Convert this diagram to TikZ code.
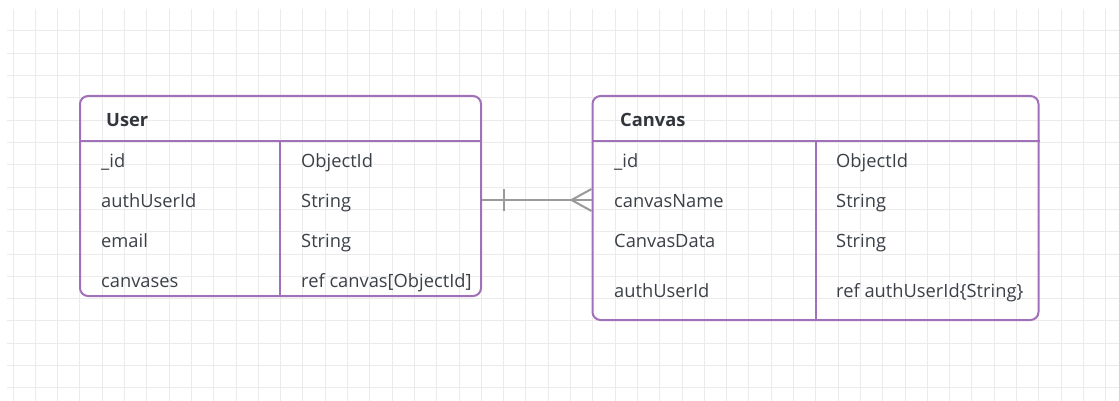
\documentclass[tikz,border=0pt]{standalone}
\usepackage{fontspec}
\setmainfont{Open Sans}
\definecolor{gridc}{HTML}{EBEBEB}
\definecolor{boxc}{HTML}{A071B9}
\definecolor{txtc}{HTML}{3B4047}
\definecolor{connc}{HTML}{9A9A9A}
\tikzset{
  tablebox/.style={draw=boxc, line width=2pt, rounded corners=8pt, fill=none, inner sep=0pt},
  rule/.style={draw=boxc, line width=2pt},
  cell/.style={anchor=base west, inner sep=0pt, text=txtc, font=\fontsize{18.3}{21}\selectfont},
  title/.style={anchor=base west, inner sep=0pt, text=txtc!85!black, font=\fontsize{18.3}{21}\selectfont\bfseries},
  conn/.style={draw=connc, line width=2pt},
}
\begin{document}
\begin{tikzpicture}[x=1pt,y=-1pt]
\useasboundingbox (0,0) rectangle (1119,401);
\fill[white] (0,0) rectangle (1119,401);
% grid
\foreach \k in {0,...,49} {
  \draw[gridc, line width=1pt] ({13+22.3*\k},9) -- ({13+22.3*\k},401);
}
\foreach \k in {0,...,16} {
  \draw[gridc, line width=1pt] (7,{31+22.3*\k}) -- (1119,{31+22.3*\k});
}
% User table
\node[tablebox, minimum width=401pt, minimum height=200pt] (User) at (280.5,196) {};
\draw[rule] (User.west |- 0,141) -- (User.east |- 0,141);
\draw[rule] (280,141) -- (280,296);
\node[title] (ut) at (106,127) {User};
\node[cell] (u1) at (101,167.5) {\_id};
\node[cell] (u2) at (101,207.5) {authUserId};
\node[cell] (u3) at (101,247.5) {email};
\node[cell] (u4) at (101,287) {canvases};
\node[cell] (ut1) at (301,167.5) {ObjectId};
\node[cell] (ut2) at (301,207.5) {String};
\node[cell] (ut3) at (301,247.5) {String};
\node[cell] (ut4) at (301,287) {ref canvas[ObjectId]};
% Canvas table
\node[tablebox, minimum width=446pt, minimum height=224pt] (Canvas) at (815.5,208) {};
\draw[rule] (Canvas.west |- 0,141) -- (Canvas.east |- 0,141);
\draw[rule] (816,141) -- (816,320);
\node[title] (ct) at (620,127) {Canvas};
\node[cell] (c1) at (614,167.5) {\_id};
\node[cell] (c2) at (614,207.5) {canvasName};
\node[cell] (c3) at (614,247.5) {CanvasData};
\node[cell] (c4) at (614,297) {authUserId};
\node[cell] (ct1) at (836,167.5) {ObjectId};
\node[cell] (ct2) at (836,207.5) {String};
\node[cell] (ct3) at (836,247.5) {String};
\node[cell] (ct4) at (836,297) {ref authUserId\{String\}};
% connector
\coordinate (ca) at ([yshift=-4pt]User.east);
\coordinate (cb) at ([yshift=8pt]Canvas.west);
\draw[conn] (ca) -- (cb);
\draw[conn] ([xshift=22pt]ca) ++(0,-11) -- ++(0,22);
\draw[conn] ([xshift=-20pt]cb) -- ++(20,-11);
\draw[conn] ([xshift=-20pt]cb) -- ++(20,11);
\end{tikzpicture}
\end{document}
